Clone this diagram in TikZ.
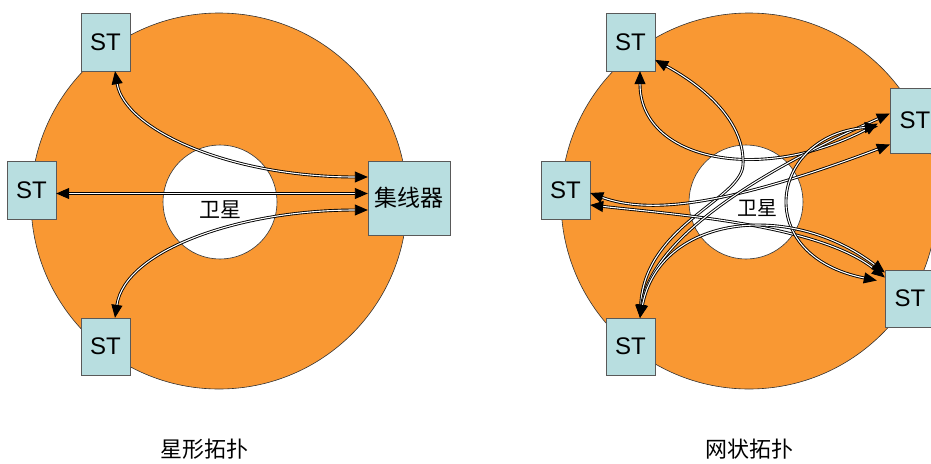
\documentclass[tikz,border=0pt]{standalone}
\usepackage{fontspec}
\setmainfont{Liberation Sans}
\newfontfamily\cjk{Noto Sans CJK SC}
\usetikzlibrary{arrows.meta}

\definecolor{ringorange}{RGB}{249,152,51}
\definecolor{stcyan}{RGB}{184,222,224}

\begin{document}
\begin{tikzpicture}[
        x=1pt, y=-1pt,
        stbox/.style={draw=black!65, fill=stcyan, inner sep=0pt, minimum width=49pt, minimum height=58pt, font=\fontsize{24}{24}\selectfont},
        link/.style={line width=0.9pt, double=white, double distance=1.1pt, {Triangle[length=13pt,width=11pt]}-{Triangle[length=13pt,width=11pt]}},
        ring/.style={draw=black!80, line width=0.6pt},
    ]
        \clip (0,0) rectangle (931,463);

        % Star topology (left)
        \draw[ring, fill=ringorange] (219,201) circle[radius=188pt];
        \draw[ring, fill=white] (220,202) circle[radius=57pt];
        \node[font=\cjk\fontsize{21}{21}\selectfont] (sat) at (220,210) {卫星};

        \node[stbox] (st1) at (105.5,42) {ST};
        \node[stbox] (st2) at (31.5,190) {ST};
        \node[stbox, minimum height=57pt] (st3) at (105.5,346.5) {ST};
        \node[stbox, minimum width=82pt, minimum height=74pt, font=\cjk\fontsize{23}{23}\selectfont] (hub) at (409,198) {集线器};

        % Links to the hub
        \draw[link] ([xshift=9.5pt]st1.south) .. controls (125,130) and (230,177) .. ([yshift=21pt]hub.west);
        \draw[link] ([yshift=-3.5pt]st2.east) -- ([yshift=4.5pt]hub.west);
        \draw[link] ([xshift=9.5pt]st3.north) .. controls (125,250) and (240,210) .. ([yshift=-12pt]hub.west);

        % Mesh topology (right)
        \draw[ring, fill=ringorange] (749,201) circle[radius=188pt];
        \draw[ring, fill=white] (746,202) circle[radius=57pt];
        \node[font=\cjk\fontsize{20}{20}\selectfont] (msat) at (757,208) {卫星};

        \node[stbox] (mst1) at (630.5,42) {ST};
        \node[stbox] (mst2) at (565.5,190) {ST};
        \node[stbox, minimum height=57pt] (mst3) at (630.5,346.5) {ST};
        \node[stbox, minimum width=50pt, minimum height=65pt] (mst4) at (915,120.5) {ST};
        \node[stbox, minimum width=50pt, minimum height=57pt] (mst5) at (910,298.5) {ST};

        % Links between stations
        \draw[link] ([xshift=9.5pt]mst1.south) .. controls (640,160) and (760,185) .. ([xshift=-12pt,yshift=-3pt]mst4.west);
        \draw[link] (mst1.-36) .. controls (710,90) and (745,125) .. (743,165) .. controls (741,200) and (645,225) .. ([xshift=9.5pt]mst3.north);
        \draw[link] ([yshift=-3pt]mst2.east) .. controls (650,215) and (730,205) .. ([yshift=-24pt]mst4.west);
        \draw[link] ([yshift=-15pt]mst2.east) .. controls (680,215) and (820,225) .. ([yshift=21pt]mst5.west);
        \draw[link] ([xshift=9.5pt]mst3.north) .. controls (650,245) and (740,180) .. ([yshift=7pt]mst4.west);
        \draw[link] ([xshift=-12pt,yshift=-6pt]mst4.west) .. controls (770,135) and (750,255) .. ([xshift=-8pt,yshift=18pt]mst5.west);
        \draw[link] ([xshift=9.5pt]mst3.north) .. controls (660,215) and (790,200) .. ([yshift=26pt]mst5.west);

        % Captions
        \node[font=\cjk\fontsize{22}{22}\selectfont] (cap1) at (204,449) {星形拓扑};
        \node[font=\cjk\fontsize{22}{22}\selectfont] (cap2) at (749,449) {网状拓扑};
    \end{tikzpicture}
\end{document}
